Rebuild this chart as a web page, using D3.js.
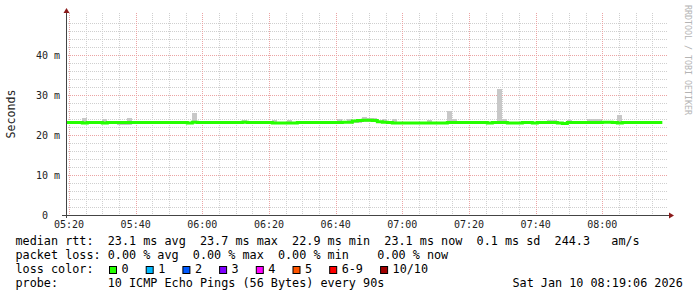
<!DOCTYPE html>
<html>
<head>
<meta charset="utf-8">
<script src="https://cdn.jsdelivr.net/npm/d3@7"></script>
<style>
  body { margin: 0; background: #fff; }
  text { font-family: "DejaVu Sans Mono", monospace; white-space: pre; }
</style>
</head>
<body>
<div id="chart"></div>
<script>
// one sample every 90 s, first step starts 05:18:00
var stepStart = Date.UTC(2026, 0, 10, 5, 18, 0);
var stepSec = 90;

// median rtt per step (ms)
var median = [
  23.1, 23.1, 23.1, 23.1, 23.0, 23.1, 23.1, 23.1, 23.0, 23.1,
  23.1, 23.1, 23.1, 23.1, 23.1, 23.1, 23.1, 23.1, 23.1, 23.1,
  23.1, 23.1, 23.1, 23.1, 23.1, 23.0, 23.2, 23.1, 23.1, 23.1,
  23.1, 23.1, 23.1, 23.1, 23.1, 23.1, 23.2, 23.1, 23.1, 23.1,
  23.1, 23.1, 23.0, 23.0, 23.0, 23.0, 23.0, 23.1, 23.1, 23.1,
  23.1, 23.1, 23.1, 23.1, 23.1, 23.1, 23.2, 23.2, 23.5, 23.6,
  23.7, 23.7, 23.6, 23.3, 23.2, 23.1, 23.0, 23.0, 23.0, 23.0,
  23.0, 23.0, 23.0, 23.0, 23.0, 23.0, 23.0, 23.1, 23.1, 23.1,
  23.1, 23.1, 23.1, 23.1, 23.1, 23.0, 23.1, 23.1, 23.1, 23.0,
  23.0, 23.0, 23.1, 23.1, 23.0, 23.1, 23.1, 23.1, 23.1, 23.0,
  22.9, 23.1, 23.1, 23.1, 23.1, 23.1, 23.1, 23.1, 23.2, 23.2,
  23.1, 23.0, 23.1, 23.1, 23.1, 23.1, 23.1, 23.1, 23.1, 23.1
];

// highest ping per step (ms)
var smokeHi = [
  23.3, 23.3, 23.3, 23.3, 24.3, 23.3, 23.3, 23.3, 24.0, 23.3,
  23.3, 23.3, 23.3, 24.3, 23.3, 23.3, 23.3, 23.3, 23.3, 23.3,
  23.3, 23.3, 23.3, 23.3, 23.3, 23.3, 25.6, 23.3, 23.3, 23.3,
  23.3, 23.3, 23.3, 23.3, 23.3, 23.3, 23.75, 23.3, 23.3, 23.3,
  23.3, 23.3, 23.8, 23.3, 23.3, 23.75, 23.3, 23.3, 23.3, 23.3,
  23.3, 23.3, 23.3, 23.3, 23.3, 24.1, 23.4, 23.9, 23.7, 23.8,
  24.5, 24.3, 24.3, 23.5, 24.0, 23.3, 24.0, 23.2, 23.2, 23.2,
  23.2, 23.2, 23.2, 23.75, 23.2, 23.2, 23.2, 26.1, 24.1, 23.3,
  23.3, 23.3, 23.3, 23.3, 23.3, 23.2, 23.3, 31.5, 24.0, 23.2,
  23.2, 23.2, 23.3, 23.3, 23.2, 23.3, 23.3, 23.75, 23.75, 23.2,
  23.1, 23.75, 23.3, 23.3, 23.3, 24.0, 24.0, 24.0, 23.4, 23.4,
  23.3, 25.1, 23.3, 23.3, 23.3, 23.3, 23.3, 23.3, 23.3, 23.3
];

// lowest ping per step (ms)
var smokeLo = [
  22.9, 22.9, 22.9, 22.8, 22.7, 22.9, 22.9, 22.9, 22.8, 22.9,
  22.9, 22.6, 22.6, 22.6, 22.9, 22.9, 22.9, 22.9, 22.9, 22.9,
  22.9, 22.9, 22.8, 22.9, 22.9, 22.8, 22.9, 22.9, 22.9, 22.9,
  22.9, 22.9, 22.9, 22.9, 22.9, 22.9, 22.9, 22.9, 22.9, 22.9,
  22.9, 22.9, 22.8, 22.7, 22.8, 22.8, 22.8, 22.9, 22.9, 22.9,
  22.9, 22.9, 22.9, 22.9, 22.9, 22.8, 22.9, 22.9, 22.9, 23.1,
  23.2, 23.3, 23.2, 23.0, 22.9, 22.9, 22.8, 22.8, 22.8, 22.8,
  22.8, 22.8, 22.8, 22.8, 22.8, 22.8, 22.8, 22.9, 22.9, 22.9,
  22.9, 22.9, 22.9, 22.9, 22.9, 22.8, 22.9, 22.9, 22.9, 22.8,
  22.8, 22.8, 22.9, 22.9, 22.8, 22.9, 22.9, 22.9, 22.9, 22.8,
  22.6, 22.9, 22.9, 22.9, 22.9, 22.8, 22.8, 22.9, 23.0, 23.0,
  22.9, 22.8, 22.9, 22.9, 22.9, 22.9, 22.9, 22.9, 22.9, 22.9
];

var yTicks = [0, 10, 20, 30, 40];
var yTickLabels = ["0  ", "10 m", "20 m", "30 m", "40 m"];

var lossLabels = ["0", "1", "2", "3", "4", "5", "6-9", "10/10"];
var lossColors = ["#26ff00", "#00b8ff", "#0059ff", "#7e00ff", "#ff00ff", "#ff5500", "#ff0000", "#a10000"];

var legendLines = [
  "median rtt:  23.1 ms avg  23.7 ms max  22.9 ms min  23.1 ms now  0.1 ms sd  244.3   am/s",
  "packet loss: 0.00 % avg  0.00 % max  0.00 % min    0.00 % now",
  "loss color:",
  "probe:       10 ICMP Echo Pings (56 Bytes) every 90s"
];
var stamp = "Sat Jan 10 08:19:06 2026";

var W = 697, H = 297;
var pLeft = 66, pRight = 666, pTop = 15, pBottom = 215;
var charW = 7.1;

var svg = d3.select("#chart").append("svg")
    .attr("width", W)
    .attr("height", H)
    .style("background", "#fff");

var x = d3.scaleUtc()
    .domain([Date.UTC(2026, 0, 10, 5, 19, 6), Date.UTC(2026, 0, 10, 8, 19, 6)])
    .range([pLeft, pRight]);

var y = d3.scaleLinear()
    .domain([0, 50])
    .range([pBottom, pTop]);

// grid
var minorY = d3.range(2, 50, 2).filter(function(v) { return v % 10 != 0; });
var majorY = yTicks.filter(function(v) { return v > 0; });
var minorX = x.ticks(d3.utcMinute.every(5)).filter(function(d) { return d.getUTCMinutes() % 20 != 0; });
var majorX = x.ticks(d3.utcMinute.every(20));

var grid = svg.append("g").attr("stroke-dasharray", "1,1").attr("stroke-width", 1);

grid.selectAll("line.my").data(minorY).enter().append("line")
    .attr("x1", pLeft).attr("x2", pRight + 1)
    .attr("y1", function(d) { return Math.round(y(d)) + 0.5; })
    .attr("y2", function(d) { return Math.round(y(d)) + 0.5; })
    .attr("stroke", "#cfcfcf");

grid.selectAll("line.mx").data(minorX).enter().append("line")
    .attr("x1", function(d) { return Math.round(x(d)) + 0.5; })
    .attr("x2", function(d) { return Math.round(x(d)) + 0.5; })
    .attr("y1", pTop - 2).attr("y2", pBottom)
    .attr("stroke", "#cfcfcf");

grid.selectAll("line.My").data(majorY).enter().append("line")
    .attr("x1", pLeft).attr("x2", pRight + 1)
    .attr("y1", function(d) { return Math.round(y(d)) + 0.5; })
    .attr("y2", function(d) { return Math.round(y(d)) + 0.5; })
    .attr("stroke", "#eba4a4");

grid.selectAll("line.Mx").data(majorX).enter().append("line")
    .attr("x1", function(d) { return Math.round(x(d)) + 0.5; })
    .attr("x2", function(d) { return Math.round(x(d)) + 0.5; })
    .attr("y1", pTop - 2).attr("y2", pBottom)
    .attr("stroke", "#eba4a4");

// data
var steps = median.map(function(v, i) {
  return {
    t0: new Date(stepStart + i * stepSec * 1000),
    t1: new Date(stepStart + (i + 1) * stepSec * 1000),
    v: v, hi: smokeHi[i], lo: smokeLo[i]
  };
});

svg.append("clipPath").attr("id", "plot")
  .append("rect").attr("x", pLeft).attr("y", pTop - 5)
  .attr("width", pRight - pLeft + 2).attr("height", pBottom - pTop + 5);

var plot = svg.append("g").attr("clip-path", "url(#plot)");

plot.selectAll("rect.smoke").data(steps).enter().append("rect")
    .attr("x", function(d) { return x(d.t0); })
    .attr("width", function(d) { return x(d.t1) - x(d.t0); })
    .attr("y", function(d) { return y(d.hi); })
    .attr("height", function(d) { return y(d.lo) - y(d.hi); })
    .attr("fill", "#c8c8c8")
    .attr("shape-rendering", "crispEdges");

var linePts = steps.map(function(d) { return {t: d.t0, v: d.v}; });
linePts.push({t: steps[steps.length - 1].t1, v: median[median.length - 1]});

var line = d3.line()
    .x(function(d) { return x(d.t); })
    .y(function(d) { return y(d.v); })
    .curve(d3.curveStepAfter);

plot.append("path")
    .datum(linePts)
    .attr("d", line)
    .attr("fill", "none")
    .attr("stroke", lossColors[0])
    .attr("stroke-width", 3);

// axes
var axisCol = "#444";
svg.append("line").attr("x1", pLeft - 4).attr("x2", pRight + 3)
    .attr("y1", pBottom + 0.5).attr("y2", pBottom + 0.5)
    .attr("stroke", axisCol);
svg.append("line").attr("x1", pLeft + 0.5).attr("x2", pLeft + 0.5)
    .attr("y1", pBottom + 3).attr("y2", pTop - 3)
    .attr("stroke", axisCol);
svg.append("path")
    .attr("d", "M" + (pRight + 3) + "," + (pBottom - 2.5) + "L" + (pRight + 8) + "," + (pBottom + 0.5) + "L" + (pRight + 3) + "," + (pBottom + 3.5) + "Z")
    .attr("fill", "#8b1a1a");
svg.append("path")
    .attr("d", "M" + (pLeft - 2.5) + "," + (pTop - 2) + "L" + (pLeft + 0.5) + "," + (pTop - 7) + "L" + (pLeft + 3.5) + "," + (pTop - 2) + "Z")
    .attr("fill", "#8b1a1a");

// tick labels
svg.selectAll("text.yl").data(yTicks).enter().append("text")
    .attr("x", 60)
    .attr("y", function(d) { return y(d) + 3.6; })
    .attr("text-anchor", "end")
    .attr("font-size", 10)
    .attr("fill", "#222")
    .text(function(d, i) { return yTickLabels[i]; });

var fmt = d3.utcFormat("%H:%M");
svg.selectAll("text.xl").data(majorX).enter().append("text")
    .attr("x", function(d) { return x(d); })
    .attr("y", 228)
    .attr("text-anchor", "middle")
    .attr("font-size", 10)
    .attr("fill", "#222")
    .text(function(d) { return fmt(d); });

svg.append("text")
    .attr("transform", "translate(15,114) rotate(-90)")
    .attr("text-anchor", "middle")
    .attr("font-size", 11.6)
    .attr("fill", "#222")
    .text("Seconds");

svg.append("text")
    .attr("transform", "translate(685,5) rotate(90)")
    .attr("font-size", 8.3)
    .attr("fill", "#b4b4b4")
    .text("RRDTOOL / TOBI OETIKER");

// legend
var legendFont = charW / 0.602;
svg.selectAll("text.leg").data(legendLines).enter().append("text")
    .attr("x", 15.5)
    .attr("y", function(d, i) { return 245 + i * 14; })
    .attr("font-size", legendFont)
    .attr("fill", "#000")
    .text(function(d) { return d; });

svg.append("text")
    .attr("x", 15.5 + 70 * charW)
    .attr("y", 245 + 3 * 14)
    .attr("font-size", legendFont)
    .attr("fill", "#000")
    .text(stamp);

var sx = 109, items = [];
lossLabels.forEach(function(l, i) {
  items.push({x: sx, label: l, color: lossColors[i]});
  sx = sx + 12.5 + l.length * charW + 17.1;
});

var lg = svg.append("g");
lg.selectAll("rect").data(items).enter().append("rect")
    .attr("x", function(d) { return d.x + 0.5; })
    .attr("y", 266.5)
    .attr("width", 7).attr("height", 7)
    .attr("fill", function(d) { return d.color; })
    .attr("stroke", "#000");
lg.selectAll("text").data(items).enter().append("text")
    .attr("x", function(d) { return d.x + 12.5; })
    .attr("y", 273)
    .attr("font-size", legendFont)
    .attr("fill", "#000")
    .text(function(d) { return d.label; });
</script>
</body>
</html>
